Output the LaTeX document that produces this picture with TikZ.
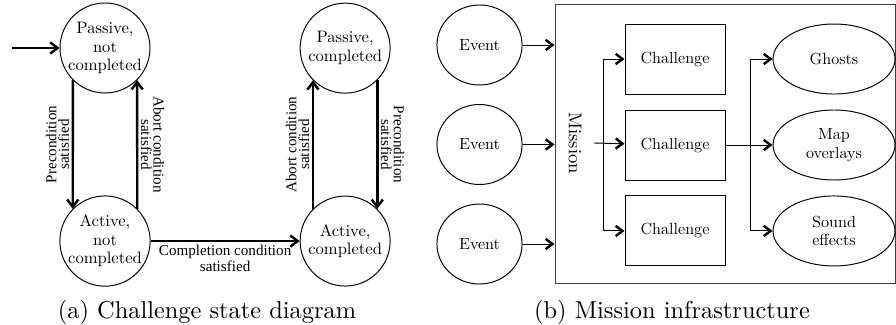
\documentclass[tikz,border=0pt]{standalone}
\usepackage{fontspec}
\usetikzlibrary{arrows.meta, positioning, shapes.geometric}
\newfontfamily\nodefont{lmroman10-regular.otf}
\newfontfamily\condfont{Liberation Serif}

\begin{document}
\begin{tikzpicture}[
x=0.41pt, y=-0.41pt,
node distance=41.8pt and 61.1pt,
state/.style={draw, circle, minimum size=36.9pt, inner sep=0pt,
align=center, font=\nodefont\fontsize{6.8}{7.6}\selectfont},
cond/.style={align=center, inner sep=1pt,
font=\condfont\fontsize{6.2}{5.2}\selectfont},
arrow/.style={-{Straight Barb[length=3pt, width=4.6pt]}, line width=1pt},
event/.style={draw, ellipse, minimum width=34.9pt, minimum height=32.8pt,
inner sep=0pt, font=\nodefont\fontsize{6.6}{7.6}\selectfont},
chbox/.style={draw, rectangle, minimum width=41pt, minimum height=28.7pt,
font=\nodefont\fontsize{6.6}{7.6}\selectfont},
effect/.style={draw, ellipse, minimum width=50pt, minimum height=28.7pt,
inner sep=0pt, align=center, font=\nodefont\fontsize{6.6}{7.6}\selectfont},
link/.style={-{Straight Barb[length=2.8pt, width=4.2pt, line width=1pt]},
line width=0.4pt}
]
\useasboundingbox (0,0) rectangle (896,325);

% (a) state diagram
\node[state] (pnc) at (105,48) {Passive,\\not\\completed};
\node[state, below=of pnc] (anc) {Active,\\not\\completed};
\node[state, right=of anc] (ac) {Active,\\completed};
\node[state, above=of ac] (pc) {Passive,\\completed};
\coordinate (start) at (12,48);

\draw[arrow] (start) -- (pnc);
\draw[arrow] (pnc.225) -- node[cond, midway, rotate=90, anchor=south]
{Precondition\\satisfied} (anc.135);
\draw[arrow] (anc.45) -- node[cond, midway, rotate=-90, anchor=south]
{Abort condition\\satisfied} (pnc.-45);
\draw[arrow] (anc) -- node[cond, midway, below]
{Completion condition\\satisfied} (ac);
\draw[arrow] (ac.135) -- node[cond, midway, rotate=90, anchor=south]
{Abort condition\\satisfied} (pc.225);
\draw[arrow] (pc.-45) -- node[cond, midway, rotate=-90, anchor=south]
{Precondition\\satisfied} (ac.45);

\node (capa) at (207,312) {(a) Challenge state diagram};

% (b) mission infrastructure
\node[draw=black!75, minimum width=139.4pt, minimum height=114pt] (mission) at (725,144) {};
\node[rotate=-90, inner sep=5pt, font=\nodefont\fontsize{7.6}{9}\selectfont] (missionlabel) at (575,143) {Mission};

\node[event] (ev1) at (479.5,45) {Event};
\node[event, below=7.6pt of ev1] (ev2) {Event};
\node[event, below=7.6pt of ev2] (ev3) {Event};

\draw[link] (ev1) -- (ev1 -| mission.west);
\draw[link] (ev2) -- (ev2 -| mission.west);
\draw[link] (ev3) -- (ev3 -| mission.west);

\node[chbox] (ch2) at (675,145) {Challenge};
\node[chbox, above=6.15pt of ch2] (ch1) {Challenge};
\node[chbox, below=6.15pt of ch2] (ch3) {Challenge};

\coordinate (fork) at (603,145);
\draw[link] (missionlabel.north) -- (ch2);
\draw[link] (fork) |- (ch1);
\draw[link] (fork) |- (ch3);

\node[effect, right=19.3pt of ch1] (ghosts) {Ghosts};
\node[effect, right=19.3pt of ch2] (map) {Map\\overlays};
\node[effect, right=19.3pt of ch3] (sound) {Sound\\effects};

\coordinate (split) at (750,145);
\draw[link] (ch2) -- (map);
\draw[link] (split) |- (ghosts);
\draw[link] (split) |- (sound);

\node (capb) at (672,312) {(b) Mission infrastructure};

\end{tikzpicture}
\end{document}
